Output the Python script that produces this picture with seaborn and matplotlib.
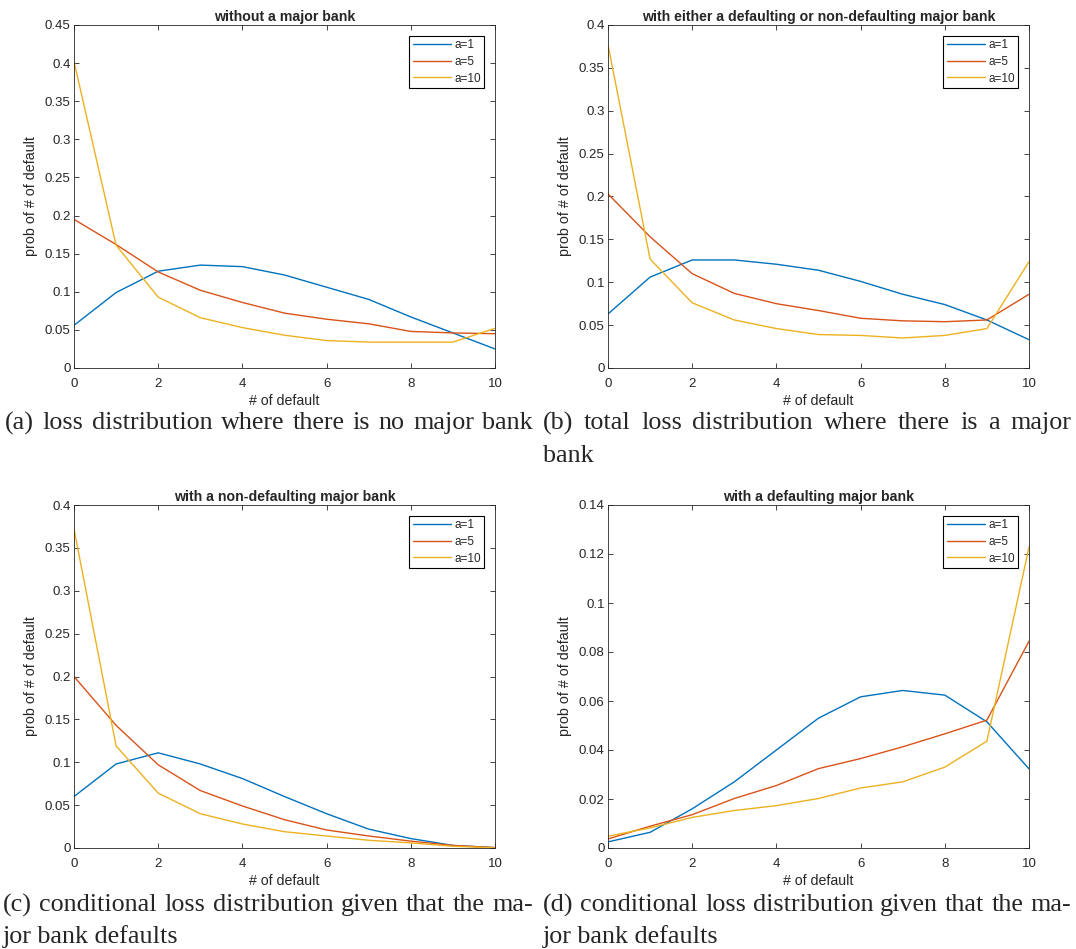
import pandas as pd
import seaborn as sns
import matplotlib.pyplot as plt

# number of defaults on the x axis
n_default = list(range(11))
labels = ['a=1', 'a=5', 'a=10']

# (a) without a major bank
a_a1 = [0.056, 0.099, 0.127, 0.135, 0.133, 0.122, 0.106, 0.090, 0.067, 0.046, 0.025]
a_a5 = [0.195, 0.162, 0.126, 0.102, 0.086, 0.072, 0.064, 0.058, 0.048, 0.046, 0.045]
a_a10 = [0.402, 0.161, 0.093, 0.066, 0.053, 0.043, 0.036, 0.034, 0.034, 0.034, 0.052]

# (b) with either a defaulting or non-defaulting major bank
b_a1 = [0.063, 0.106, 0.126, 0.126, 0.121, 0.114, 0.101, 0.086, 0.074, 0.056, 0.033]
b_a5 = [0.203, 0.153, 0.110, 0.087, 0.075, 0.067, 0.058, 0.055, 0.054, 0.056, 0.086]
b_a10 = [0.377, 0.127, 0.076, 0.056, 0.046, 0.039, 0.038, 0.035, 0.038, 0.046, 0.124]

# (c) with a non-defaulting major bank
c_a1 = [0.060, 0.098, 0.111, 0.098, 0.081, 0.060, 0.040, 0.022, 0.011, 0.003, 0.0004]
c_a5 = [0.200, 0.143, 0.097, 0.067, 0.049, 0.033, 0.021, 0.014, 0.008, 0.003, 0.0005]
c_a10 = [0.372, 0.119, 0.064, 0.040, 0.028, 0.019, 0.014, 0.009, 0.006, 0.002, 0.0002]

# (d) with a defaulting major bank
d_a1 = [0.0025, 0.0064, 0.016, 0.027, 0.040, 0.053, 0.0617, 0.0643, 0.0624, 0.0515, 0.0323]
d_a5 = [0.0037, 0.0089, 0.0136, 0.0202, 0.0255, 0.0324, 0.0365, 0.0413, 0.0466, 0.0522, 0.0844]
d_a10 = [0.0048, 0.0082, 0.0125, 0.0153, 0.0173, 0.0202, 0.0245, 0.027, 0.033, 0.0436, 0.1228]

titles = ['without a major bank',
          'with either a defaulting or non-defaulting major bank',
          'with a non-defaulting major bank',
          'with a defaulting major bank']
ylims = [0.45, 0.4, 0.4, 0.14]
ysteps = [0.05, 0.05, 0.05, 0.02]
series = [[a_a1, a_a5, a_a10], [b_a1, b_a5, b_a10],
          [c_a1, c_a5, c_a10], [d_a1, d_a5, d_a10]]

palette = ['#0072BD', '#D95319', '#EDB120']

sns.set_style('ticks')
plt.rcParams['font.family'] = ['Liberation Sans', 'DejaVu Sans']
plt.rcParams['xtick.direction'] = 'in'
plt.rcParams['ytick.direction'] = 'in'

fig = plt.figure(figsize=(10.76, 9.49), dpi=100)
W, H = 1076, 949
# axes boxes in pixels: left, top, width, height
boxes = [(74, 25, 421, 343), (608, 25, 421, 343),
         (74, 505, 421, 343), (608, 505, 421, 343)]

for i in range(4):
    l, t, w, h = boxes[i]
    ax = fig.add_axes([l / W, 1 - (t + h) / H, w / W, h / H])
    df = pd.DataFrame({
        'x': n_default * 3,
        'y': series[i][0] + series[i][1] + series[i][2],
        'a': [labels[0]] * 11 + [labels[1]] * 11 + [labels[2]] * 11,
    })
    sns.lineplot(data=df, x='x', y='y', hue='a', palette=palette,
                 linewidth=1.0, ax=ax)
    ax.set_xlim(0, 10)
    ax.set_ylim(0, ylims[i])
    ax.set_xticks(range(0, 11, 2))
    nt = int(round(ylims[i] / ysteps[i]))
    yt = [round(k * ysteps[i], 2) for k in range(nt + 1)]
    ax.set_yticks(yt)
    ax.set_yticklabels(['0' if v == 0 else f'{v:g}' for v in yt])
    ax.tick_params(axis='both', labelsize=9.5, colors='#262626', length=3.5,
                   width=0.6, top=True, right=True)
    ax.tick_params(axis='x', pad=7)
    ax.tick_params(axis='y', pad=2.5)
    for s in ax.spines.values():
        s.set_color('#262626')
        s.set_linewidth(0.6)
    ax.set_title(titles[i], fontsize=10.2, fontweight='bold', pad=3)
    ax.set_xlabel('# of default', fontsize=10.2, color='#262626', labelpad=3)
    ax.set_ylabel('prob of # of default', fontsize=10.3, color='#262626', labelpad=5)
    leg = ax.legend(loc='upper right', fontsize=8.5, frameon=True, fancybox=False,
                    edgecolor='black', framealpha=1, handlelength=3.2,
                    borderaxespad=0.9, borderpad=0.3, labelspacing=0.4,
                    handletextpad=0.3)
    leg.get_frame().set_linewidth(0.8)

# captions below the panels
cap = dict(fontsize=18.8, family=['Liberation Serif', 'DejaVu Serif'], va='center')
renderer = fig.canvas.get_renderer()


def justified(line, x0, x1, y):
    # spread the words of one caption line over the column width
    words = line.split(' ')
    texts = [fig.text(0, 1 - y / H, wd, ha='left', **cap) for wd in words]
    widths = [t.get_window_extent(renderer).width for t in texts]
    gap = (x1 - x0 - sum(widths)) / (len(words) - 1)
    x = x0
    for t, wd in zip(texts, widths):
        t.set_x(x / W)
        x += wd + gap


justified('(a) loss distribution where there is no major bank', 5, 533, 423)
justified('(b) total loss distribution where there is a major', 543, 1071, 423)
fig.text(543 / W, 1 - 456 / H, 'bank', ha='left', **cap)
justified('(c) conditional loss distribution given that the ma-', 3, 533, 905)
fig.text(3 / W, 1 - 937 / H, 'jor bank defaults', ha='left', **cap)
justified('(d) conditional loss distribution given that the ma-', 543, 1071, 905)
fig.text(543 / W, 1 - 937 / H, 'jor bank defaults', ha='left', **cap)

plt.savefig('out.png', dpi=100)
